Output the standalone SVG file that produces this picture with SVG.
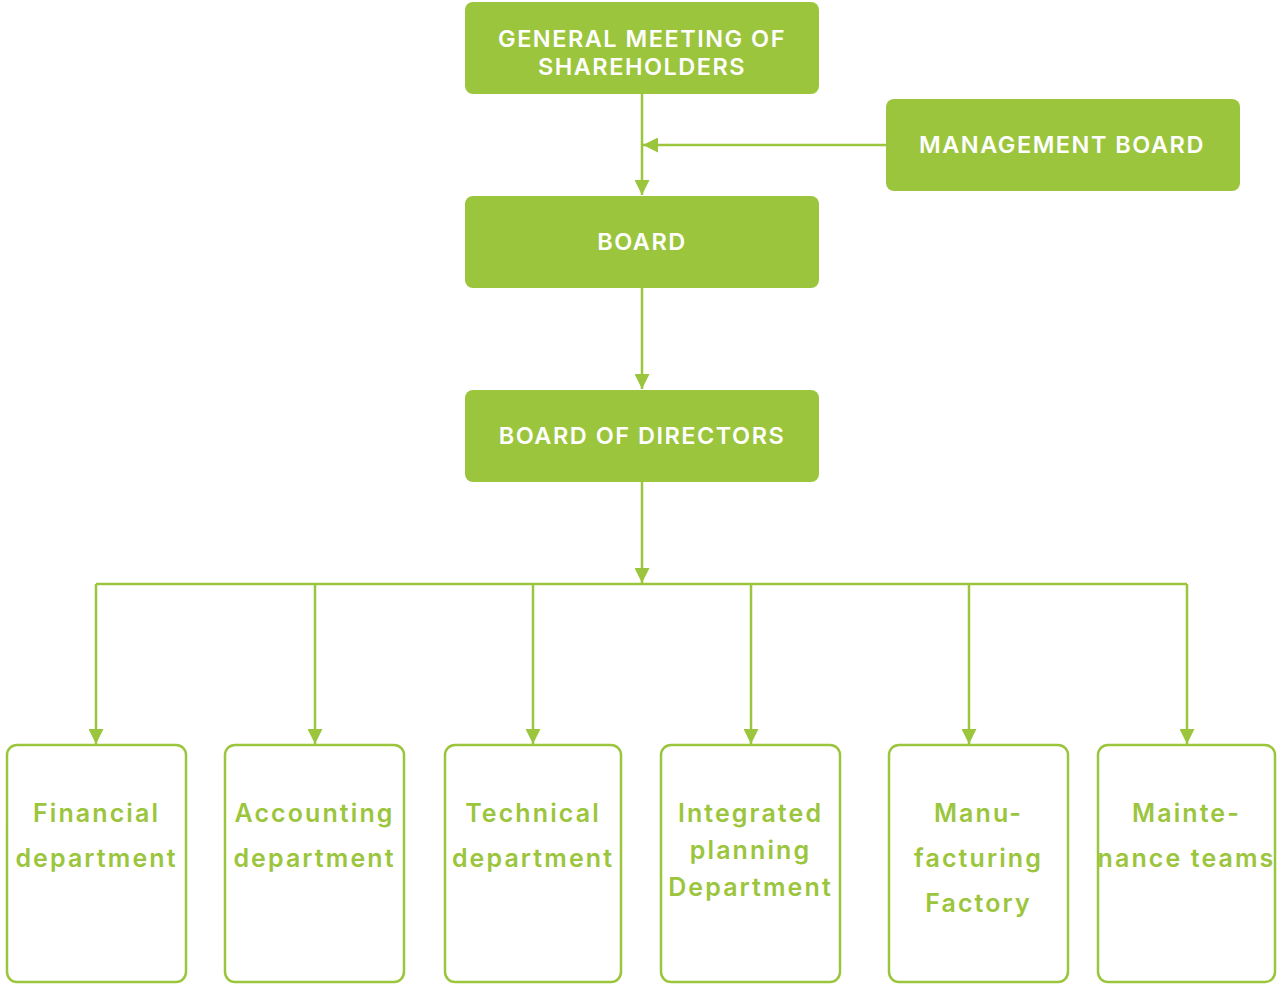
<svg xmlns="http://www.w3.org/2000/svg" width="1277" height="984" viewBox="0 0 1277 984">
<style>
.top{fill:#9bc53d;}
.tt{fill:#ffffff;font-family:Inter,"Open Sans",sans-serif;font-weight:600;font-size:23.5px;letter-spacing:1.5px;text-anchor:middle;}
.bot{fill:#ffffff;stroke:#9bc53d;stroke-width:2.5;}
.bt{fill:#9bc53d;font-family:Inter,"Open Sans",sans-serif;font-weight:600;font-size:25px;letter-spacing:2.1px;text-anchor:middle;}
.ln{fill:none;stroke:#9bc53d;stroke-width:2.5;}
</style>
<defs>
<marker id="ah" viewBox="0 0 10 10" refX="10" refY="5" markerWidth="6" markerHeight="6" markerUnits="strokeWidth" orient="auto">
<path d="M0,0 L10,5 L0,10 Z" fill="#9bc53d"/>
</marker>
</defs>
<rect width="1277" height="984" fill="#ffffff"/>
<g id="connectors">
<path class="ln" d="M642,94 V195" marker-end="url(#ah)"/>
<path class="ln" d="M886,145 H643" marker-end="url(#ah)"/>
<path class="ln" d="M642,288 V389" marker-end="url(#ah)"/>
<path class="ln" d="M642,482 V583" marker-end="url(#ah)"/>
<path class="ln" d="M96,584 H1187"/>
<path class="ln" d="M96,584 V744" marker-end="url(#ah)"/>
<path class="ln" d="M315,584 V744" marker-end="url(#ah)"/>
<path class="ln" d="M533,584 V744" marker-end="url(#ah)"/>
<path class="ln" d="M751,584 V744" marker-end="url(#ah)"/>
<path class="ln" d="M969,584 V744" marker-end="url(#ah)"/>
<path class="ln" d="M1187,584 V744" marker-end="url(#ah)"/>
</g>
<g id="gms">
<rect class="top" x="465" y="2" width="354" height="92" rx="8"/>
<text class="tt" x="642" y="47">GENERAL MEETING OF</text>
<text class="tt" x="642" y="75">SHAREHOLDERS</text>
</g>
<g id="mgmt">
<rect class="top" x="886" y="99" width="354" height="92" rx="8"/>
<text class="tt" x="1062" y="153">MANAGEMENT BOARD</text>
</g>
<g id="board">
<rect class="top" x="465" y="196" width="354" height="92" rx="8"/>
<text class="tt" x="642" y="250">BOARD</text>
</g>
<g id="bod">
<rect class="top" x="465" y="390" width="354" height="92" rx="8"/>
<text class="tt" x="642" y="444">BOARD OF DIRECTORS</text>
</g>
<g id="financial">
<rect class="bot" x="7" y="745" width="179" height="237" rx="10"/>
<text class="bt" x="96.5" y="822">Financial</text>
<text class="bt" x="96.5" y="867">department</text>
</g>
<g id="accounting">
<rect class="bot" x="225" y="745" width="179" height="237" rx="10"/>
<text class="bt" x="314.5" y="822">Accounting</text>
<text class="bt" x="314.5" y="867">department</text>
</g>
<g id="technical">
<rect class="bot" x="445" y="745" width="176" height="237" rx="10"/>
<text class="bt" x="533" y="822">Technical</text>
<text class="bt" x="533" y="867">department</text>
</g>
<g id="planning">
<rect class="bot" x="661" y="745" width="179" height="237" rx="10"/>
<text class="bt" x="750.5" y="822">Integrated</text>
<text class="bt" x="750.5" y="859">planning</text>
<text class="bt" x="750.5" y="896">Department</text>
</g>
<g id="factory">
<rect class="bot" x="889" y="745" width="179" height="237" rx="10"/>
<text class="bt" x="978.5" y="822">Manu-</text>
<text class="bt" x="978.5" y="867">facturing</text>
<text class="bt" x="978.5" y="912">Factory</text>
</g>
<g id="maintenance">
<rect class="bot" x="1098" y="745" width="177" height="237" rx="10"/>
<text class="bt" x="1186.5" y="822">Mainte-</text>
<text class="bt" x="1186.5" y="867">nance teams</text>
</g>
</svg>
